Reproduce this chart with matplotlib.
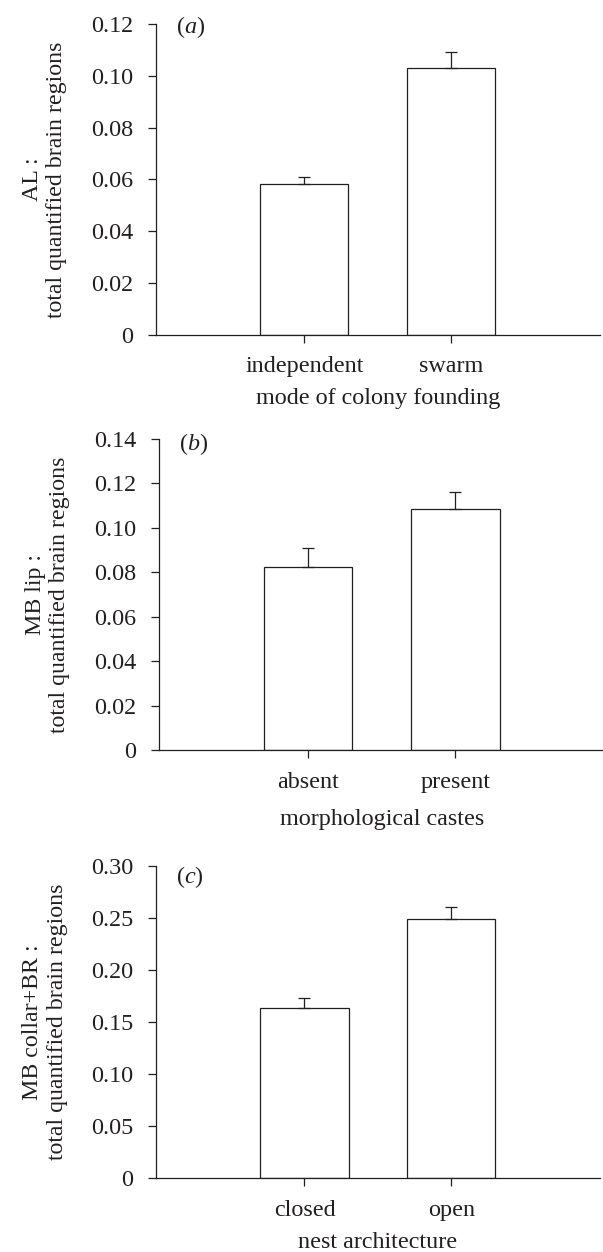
import matplotlib
matplotlib.use('Agg')
import matplotlib.pyplot as plt
from matplotlib.ticker import FuncFormatter, MultipleLocator

plt.rcParams['font.family'] = ['Liberation Serif', 'DejaVu Serif']
plt.rcParams['mathtext.fontset'] = 'custom'
plt.rcParams['mathtext.rm'] = 'Liberation Serif'
plt.rcParams['mathtext.it'] = 'Liberation Serif:italic'

# data (mean, upper error)
cats_a = ['independent', 'swarm']
means_a = [0.0581, 0.1030]
err_a = [0.0027, 0.0063]

cats_b = ['absent', 'present']
means_b = [0.0824, 0.1086]
err_b = [0.0084, 0.0075]

cats_c = ['closed', 'open']
means_c = [0.1639, 0.2488]
err_c = [0.0090, 0.0121]

ink = '#231f20'
W, H = 603, 1252
fig = plt.figure(figsize=(W / 100, H / 100), dpi=100)


def px_axes(left, right, top, bottom):
    return fig.add_axes([left / W, 1 - bottom / H, (right - left) / W, (bottom - top) / H])


def fmt(v, pos):
    if abs(v) < 1e-9:
        return '0'
    return '%.2f' % v


def panel(ax, cats, means, errs, ymax, ystep, ylab, xlab, letter, xpad=8, lety=0.99):
    x = [1, 2]
    ax.bar(x, means, width=0.6, color='white', edgecolor=ink, linewidth=0.9, zorder=2)
    ax.errorbar(x, means, yerr=[[0, 0], errs], fmt='none', ecolor=ink,
                elinewidth=0.9, capsize=4.3, capthick=0.9, zorder=3)
    ax.set_xlim(-0.014, 3.014)
    ax.set_ylim(0, ymax)
    ax.yaxis.set_major_locator(MultipleLocator(ystep))
    ax.yaxis.set_major_formatter(FuncFormatter(fmt))
    ax.set_xticks(x)
    ax.set_xticklabels(cats)
    for s in ['top', 'right']:
        ax.spines[s].set_visible(False)
    for s in ['left', 'bottom']:
        ax.spines[s].set_color(ink)
        ax.spines[s].set_linewidth(0.9)
    ax.tick_params(axis='both', direction='out', length=6, width=0.9,
                   color=ink, labelcolor=ink, labelsize=17.4)
    ax.tick_params(axis='y', pad=10)
    ax.tick_params(axis='x', pad=9.5)
    ax.set_ylabel(ylab, fontsize=17.2, color=ink, labelpad=17, linespacing=1.22)
    ax.set_xlabel(xlab, fontsize=17.4, color=ink, labelpad=xpad)
    ax.text(0.045, lety, r'($\mathit{%s}$)' % letter, transform=ax.transAxes,
            fontsize=17.4, color=ink, ha='left', va='center')


ax1 = px_axes(155.5, 600, 24.3, 334.6)
panel(ax1, cats_a, means_a, err_a, 0.12, 0.02,
      'AL :\ntotal quantified brain regions', 'mode of colony founding', 'a')

ax2 = px_axes(158.5, 605, 439, 750.2)
panel(ax2, cats_b, means_b, err_b, 0.14, 0.02,
      'MB lip :\ntotal quantified brain regions', 'morphological castes', 'b',
      xpad=12, lety=0.985)

ax3 = px_axes(155.7, 600, 866, 1178.3)
panel(ax3, cats_c, means_c, err_c, 0.30, 0.05,
      'MB collar+BR :\ntotal quantified brain regions', 'nest architecture', 'c',
      lety=0.965)

fig.savefig('out.png', dpi=100)
